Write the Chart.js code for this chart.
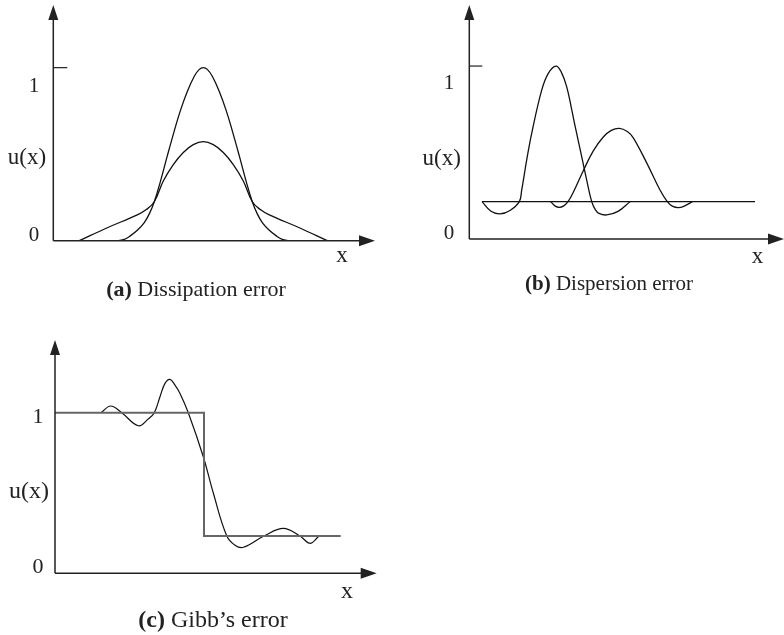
<!DOCTYPE html>
<html>
<head>
<meta charset="utf-8">
<script src="https://cdn.jsdelivr.net/npm/chart.js@4.4.1/dist/chart.umd.min.js"></script>
<style>
  body { margin: 0; background: #fff; }
  #page { position: relative; width: 784px; height: 635px; font-family: "Liberation Serif", "Times New Roman", serif; color: #222; }
  canvas { position: absolute; }
  .caption { position: absolute; font-size: 22px; line-height: 22px; white-space: nowrap; transform: translateX(-50%); }
</style>
</head>
<body>
<div id="page">
  <canvas id="chartA" width="392" height="310" style="left:0;top:0"></canvas>
  <canvas id="chartB" width="392" height="310" style="left:392px;top:0"></canvas>
  <canvas id="chartC" width="392" height="325" style="left:0;top:310px"></canvas>
  <div class="caption" style="left:196px;top:278px"><b>(a)</b> Dissipation error</div>
  <div class="caption" style="left:609px;top:272px;font-size:21px"><b>(b)</b> Dispersion error</div>
  <div class="caption" style="left:213px;top:607px;font-size:24px;line-height:24px"><b>(c)</b> Gibb’s error</div>
</div>
<script>
// (a) Dissipation error: exact pulse and damped pulse
const dissExactX = [6.4, 7.1, 7.7, 8.4, 9.1, 9.6, 10.1, 10.7, 11.4, 12.1, 12.7, 13.4, 14.1, 14.6, 15.0, 15.4, 15.9, 16.6, 17.3, 17.9, 18.6, 19.3, 19.9, 20.4, 20.9, 21.6, 22.3, 22.9, 23.6];
const dissExactY = [0, 0.008, 0.028, 0.06, 0.105, 0.155, 0.225, 0.34, 0.49, 0.635, 0.75, 0.862, 0.95, 0.99, 1.0, 0.99, 0.95, 0.862, 0.75, 0.635, 0.49, 0.34, 0.225, 0.155, 0.105, 0.06, 0.028, 0.008, 0];
const dissDampX = [2.6, 5.4, 8.4, 9.3, 10.1, 11.0, 12.0, 13.0, 14.0, 15.0, 16.0, 17.0, 18.0, 19.0, 19.9, 20.7, 21.6, 24.6, 27.4];
const dissDampY = [0, 0.075, 0.149, 0.18, 0.225, 0.345, 0.44, 0.51, 0.555, 0.572, 0.555, 0.51, 0.44, 0.345, 0.225, 0.18, 0.149, 0.075, 0];

// (b) Dispersion error: pulse, shifted pulse, baseline
const dispFirstX = [1.27, 2.17, 3.07, 4.07, 5.0, 5.24, 5.74, 6.24, 7.24, 7.9, 8.67, 9.2, 9.74, 10.2, 10.57, 11.24, 11.74, 12.24, 12.6, 12.97, 13.74, 14.87, 16.07];
const dispFirstY = [0.216, 0.16, 0.145, 0.165, 0.216, 0.283, 0.457, 0.611, 0.861, 0.958, 1.0, 0.965, 0.88, 0.76, 0.655, 0.476, 0.341, 0.216, 0.17, 0.148, 0.139, 0.16, 0.216];
const dispSecondX = [8.14, 8.6, 9.0, 9.4, 9.87, 10.4, 11.4, 12.4, 13.4, 14.2, 15.0, 15.8, 16.4, 17.74, 19.07, 19.8, 20.3, 20.9, 21.5, 22.3];
const dispSecondY = [0.216, 0.19, 0.183, 0.19, 0.216, 0.27, 0.395, 0.51, 0.59, 0.628, 0.64, 0.622, 0.585, 0.44, 0.283, 0.216, 0.19, 0.181, 0.19, 0.216];
const dispBaseX = [1.27, 28.57];
const dispBaseY = [0.216, 0.216];

// (c) Gibb's error: step and oscillating approximation
const gibbStepX = [0, 14.9, 14.9, 28.57];
const gibbStepY = [1.0, 1.0, 0.232, 0.232];
const gibbWaveX = [4.6, 5.57, 6.67, 8.33, 9.3, 9.93, 10.5, 11.0, 11.5, 12.0, 12.5, 13.33, 14.83, 15.83, 17.17, 18.0, 18.83, 20.9, 22.83, 24.5, 25.5, 26.33];
const gibbWaveY = [1.0, 1.042, 1.0, 0.919, 0.96, 1.0, 1.10, 1.183, 1.208, 1.172, 1.12, 1.0, 0.726, 0.5, 0.234, 0.175, 0.162, 0.232, 0.28, 0.232, 0.187, 0.228];

const serif = '"Liberation Serif", "Times New Roman", serif';

function points(xs, ys) {
    return xs.map((x, i) => ({ x: x, y: ys[i] }));
}

function curve(xs, ys, color, width, tension) {
    return {
        data: points(xs, ys),
        borderColor: color,
        borderWidth: width,
        pointRadius: 0,
        fill: false,
        tension: tension
    };
}

// draws the arrowed axes, the tick at 1 and the axis labels
const axisArrows = {
    id: 'axisArrows',
    afterDatasetsDraw(chart, args, o) {
        const { ctx, chartArea: a, scales: { x, y } } = chart;
        const x0 = x.getPixelForValue(0);
        const y0 = y.getPixelForValue(0);
        const y1 = y.getPixelForValue(1);
        ctx.save();
        ctx.strokeStyle = '#222';
        ctx.fillStyle = '#222';
        ctx.lineWidth = 1.5;
        ctx.beginPath();
        ctx.moveTo(x0, y0);
        ctx.lineTo(a.right - 12, y0);
        ctx.moveTo(x0, y0);
        ctx.lineTo(x0, a.top + 12);
        ctx.stroke();

        ctx.beginPath();
        ctx.moveTo(a.right, y0);
        ctx.lineTo(a.right - 16, y0 - 5.5);
        ctx.lineTo(a.right - 16, y0 + 5.5);
        ctx.closePath();
        ctx.moveTo(x0, a.top);
        ctx.lineTo(x0 - 5, a.top + 15);
        ctx.lineTo(x0 + 5, a.top + 15);
        ctx.closePath();
        ctx.fill();

        if (o.tick) {
            ctx.lineWidth = 1.2;
            ctx.beginPath();
            ctx.moveTo(x0, y1);
            ctx.lineTo(x0 + o.tick, y1);
            ctx.stroke();
        }

        ctx.textAlign = 'center';
        ctx.textBaseline = 'alphabetic';
        ctx.font = o.numSize + 'px ' + serif;
        ctx.fillText('1', x0 + o.numDx, y1 + o.oneDy);
        ctx.fillText('0', x0 + o.numDx, y0);
        ctx.font = o.labelSize + 'px ' + serif;
        ctx.fillText('u(x)', x0 + o.uDx, y.getPixelForValue(0.5) + o.uDy);
        ctx.fillText('x', a.right + o.xDx, y0 + o.xDy);
        ctx.restore();
    }
};

function makePanel(id, datasets, xMax, yMax, padding, labels) {
    const ctx = document.getElementById(id).getContext('2d');
    return new Chart(ctx, {
        type: 'line',
        data: { datasets: datasets },
        options: {
            responsive: false,
            animation: false,
            events: [],
            layout: { padding: padding },
            scales: {
                x: { type: 'linear', min: 0, max: xMax, display: false },
                y: { type: 'linear', min: 0, max: yMax, display: false }
            },
            plugins: {
                legend: { display: false },
                tooltip: { enabled: false },
                axisArrows: labels
            }
        },
        plugins: [axisArrows]
    });
}

makePanel('chartA', [
    curve(dissExactX, dissExactY, '#111', 1.3, 0.4),
    curve(dissDampX, dissDampY, '#111', 1.3, 0.4)
], 32.17, 1.362, { left: 53.3, right: 17, top: 5, bottom: 69.3 },
   { tick: 14, numSize: 21, labelSize: 23, numDx: -19.3, oneDy: 24, uDx: -26.3, uDy: 9.8, xDx: -33, xDy: 21 });

makePanel('chartB', [
    curve(dispBaseX, dispBaseY, '#111', 1.3, 0),
    curve(dispFirstX, dispFirstY, '#111', 1.3, 0.4),
    curve(dispSecondX, dispSecondY, '#111', 1.3, 0.4)
], 31.47, 1.353, { left: 77.3, right: 0, top: 5, bottom: 71 },
   { tick: 13, numSize: 21, labelSize: 23, numDx: -20.3, oneDy: 23.3, uDx: -27.6, uDy: 12.5, xDx: -26.5, xDy: 24 });

makePanel('chartC', [
    curve(gibbStepX, gibbStepY, '#666', 2, 0),
    curve(gibbWaveX, gibbWaveY, '#111', 1.2, 0.4)
], 32.17, 1.453, { left: 55, right: 15.3, top: 30, bottom: 61.7 },
   { tick: 0, numSize: 22, labelSize: 24, numDx: -17, oneDy: 10.3, uDx: -26, uDy: 5, xDx: -29.7, xDy: 24.7 });
</script>
</body>
</html>
